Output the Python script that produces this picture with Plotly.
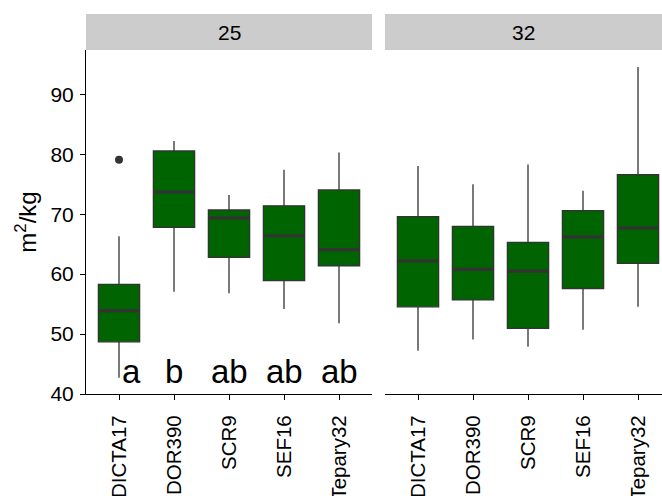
import plotly.graph_objects as go

# ---- data ----
categories = ["DICTA17", "DOR390", "SCR9", "SEF16", "Tepary32"]
facets = ["25", "32"]

# temperature 25
q1_25 = [48.7, 67.8, 62.8, 58.9, 61.4]
med_25 = [53.9, 73.7, 69.4, 66.4, 64.1]
q3_25 = [58.3, 80.55, 70.7, 71.4, 74.05]
lo_25 = [42.7, 57.05, 56.8, 54.2, 51.8]
hi_25 = [66.3, 82.2, 73.2, 77.4, 80.3]
outlier_cat_25 = ["DICTA17"]
outlier_val_25 = [79.1]
letters_25 = ["a", "b", "ab", "ab", "ab"]

# temperature 32
q1_32 = [54.55, 55.7, 50.95, 57.6, 61.8]
med_32 = [62.2, 60.8, 60.5, 66.2, 67.7]
q3_32 = [69.6, 67.95, 65.3, 70.6, 76.6]
lo_32 = [47.2, 49.1, 47.9, 50.7, 54.55]
hi_32 = [78.05, 75.0, 78.3, 73.9, 94.55]

y_ticks = [40, 50, 60, 70, 80, 90]

# ---- style ----
W, H = 662, 496
FONT = "Liberation Sans, Arial, Helvetica, sans-serif"
FILL = "#006400"
LINE = "#333333"
BOXW = 0.75
px_left1, px_right1 = 86, 372
px_left2, px_right2 = 385, 662
py_top, py_bot = 50, 394
strip_top = 14
unit_px = (px_right1 - px_left1) / 5.2
TICK_SIZE = 21
XTICK_SIZE = 20.5

pos = list(range(1, len(categories) + 1))
idx = {c: i + 1 for i, c in enumerate(categories)}

fig = go.Figure()

def add_panel(q1, med, q3, lo, hi, xa, ya):
    fig.add_trace(go.Box(
        x=pos, q1=q1, median=med, q3=q3, lowerfence=lo, upperfence=hi,
        width=BOXW, whiskerwidth=0, boxpoints=False,
        fillcolor=FILL, line=dict(color=LINE, width=1.3),
        xaxis=xa, yaxis=ya, showlegend=False, hoverinfo="skip"))
    mx, my = [], []
    for p, m in zip(pos, med):
        mx += [p - BOXW / 2, p + BOXW / 2, None]
        my += [m, m, None]
    fig.add_trace(go.Scatter(x=mx, y=my, mode="lines",
                             line=dict(color=LINE, width=3.2),
                             xaxis=xa, yaxis=ya, showlegend=False, hoverinfo="skip"))

add_panel(q1_25, med_25, q3_25, lo_25, hi_25, "x", "y")
add_panel(q1_32, med_32, q3_32, lo_32, hi_32, "x2", "y2")

fig.add_trace(go.Scatter(x=[idx[c] for c in outlier_cat_25], y=outlier_val_25,
                         mode="markers", marker=dict(color=LINE, size=8),
                         xaxis="x", yaxis="y", showlegend=False, hoverinfo="skip"))

yr = [40, 40 + (py_bot - py_top) / 5.994]
ydom = [(H - py_bot) / H, (H - py_top) / H]

axis_common = dict(showgrid=False, zeroline=False, ticks="outside", ticklen=5,
                   tickwidth=1.1, tickcolor="black", linecolor="black", linewidth=1.1)
xfont = dict(family=FONT, size=XTICK_SIZE, color="black")
yfont = dict(family=FONT, size=TICK_SIZE, color="black")

fig.update_layout(
    width=W, height=H, margin=dict(l=0, r=0, t=0, b=0),
    paper_bgcolor="white", plot_bgcolor="white",
    font=dict(family=FONT, color="black"),
    xaxis=dict(domain=[px_left1 / W, px_right1 / W], range=[0.4, 5.6],
               tickvals=pos, ticktext=categories, tickangle=-90, showline=True,
               anchor="y", automargin=False, ticklabelstandoff=7, tickfont=xfont,
               **axis_common),
    xaxis2=dict(domain=[px_left2 / W, 1.0],
                range=[0.4, 0.4 + (px_right2 - px_left2) / unit_px],
                tickvals=pos, ticktext=categories, tickangle=-90, showline=True,
                anchor="y2", automargin=False, ticklabelstandoff=7, tickfont=xfont,
                **axis_common),
    yaxis=dict(domain=ydom, range=yr, tickvals=y_ticks, showline=True,
               anchor="x", automargin=False, ticklabelstandoff=2, tickfont=yfont,
               title=dict(text="m<sup>2</sup>/kg", font=dict(family=FONT, size=24),
                          standoff=6),
               **axis_common),
    yaxis2=dict(domain=ydom, range=yr, showline=False, showticklabels=False,
                ticks="", showgrid=False, zeroline=False, anchor="x2", matches="y"),
)

# strips
for (x0, x1), lab in zip([(px_left1, px_right1), (px_left2, px_right2)], facets):
    fig.add_shape(type="rect", xref="paper", yref="paper",
                  x0=x0 / W, x1=x1 / W, y0=(H - py_top) / H, y1=(H - strip_top) / H,
                  fillcolor="#CCCCCC", line=dict(width=0), layer="below")
    fig.add_annotation(xref="paper", yref="paper", x=(x0 + x1) / 2 / W,
                       y=(H - (strip_top + py_top) / 2) / H, text=lab, showarrow=False,
                       xanchor="center", yanchor="middle",
                       font=dict(family=FONT, size=TICK_SIZE, color="black"))

# significance letters
for c, lt in zip(categories, letters_25):
    fig.add_annotation(x=idx[c], y=43.7, xref="x", yref="y", text=lt, showarrow=False,
                       xanchor="center", yanchor="middle",
                       xshift=12 if lt == "a" else 0,
                       font=dict(family=FONT, size=33, color="black"))

fig.write_html("out.html")
